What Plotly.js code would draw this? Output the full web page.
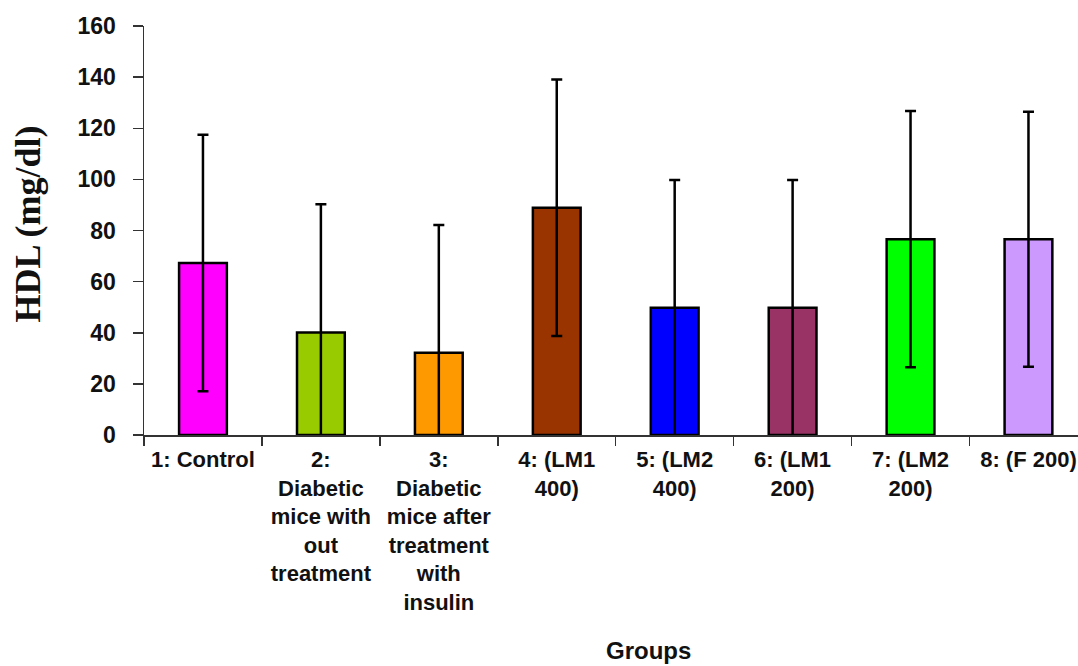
<!DOCTYPE html>
<html>
<head>
<meta charset="utf-8">
<script src="https://cdn.plot.ly/plotly-3.0.1.min.js"></script>
<style>html,body{margin:0;padding:0;background:#fff;}#chart{width:1078px;height:666px;}</style>
</head>
<body>
<div id="chart"></div>
<script>
const categories = [
  "1: Control",
  "2:<br>Diabetic<br>mice with<br>out<br>treatment",
  "3:<br>Diabetic<br>mice after<br>treatment<br>with<br>insulin",
  "4: (LM1<br>400)",
  "5: (LM2<br>400)",
  "6: (LM1<br>200)",
  "7: (LM2<br>200)",
  "8: (F 200)"
];
const hdlValues = [67.3, 40.1, 32.2, 88.9, 49.8, 49.8, 76.6, 76.6];
const hdlErrors = [50.2, 50.2, 50.0, 50.2, 50.0, 50.0, 50.1, 49.9];
const barColors = ["#FF00FF", "#99CC00", "#FF9900", "#993300", "#0000FF", "#993366", "#00FF00", "#CC99FF"];
const yTickVals = [0, 20, 40, 60, 80, 100, 120, 140, 160];

const trace = {
  type: "bar",
  x: categories,
  y: hdlValues,
  width: 0.405,
  marker: { color: barColors, line: { color: "#000", width: 2.5 } },
  error_y: { type: "data", array: hdlErrors, visible: true, color: "#000", thickness: 2.5, width: 5.5 },
  hoverinfo: "none"
};

const layout = {
  width: 1078,
  height: 666,
  margin: { l: 144, r: 0, t: 26, b: 231 },
  paper_bgcolor: "#fff",
  plot_bgcolor: "#fff",
  showlegend: false,
  xaxis: {
    type: "category",
    range: [-0.5, 7.42],
    tickson: "boundaries",
    ticks: "outside",
    ticklen: 9,
    tickwidth: 1.5,
    tickcolor: "#333",
    showline: true,
    linecolor: "#333",
    linewidth: 1.5,
    showgrid: false,
    zeroline: false,
    tickangle: 0,
    ticklabelstandoff: 4,
    tickfont: { family: "Liberation Sans, Arial, sans-serif", size: 22, weight: "bold", color: "#111" },
    fixedrange: true
  },
  yaxis: {
    range: [0, 160],
    tickvals: yTickVals,
    ticks: "outside",
    ticklen: 10,
    tickwidth: 1.5,
    tickcolor: "#333",
    showline: true,
    linecolor: "#333",
    linewidth: 1.5,
    showgrid: false,
    zeroline: false,
    ticklabelstandoff: 12,
    tickfont: { family: "Liberation Sans, Arial, sans-serif", size: 23, weight: "bold", color: "#111" },
    fixedrange: true
  },
  annotations: [
    {
      text: "<b>Groups</b>",
      xref: "paper", yref: "paper",
      x: 0.54, y: -0.528,
      xanchor: "center", yanchor: "middle",
      showarrow: false,
      font: { family: "Liberation Sans, Arial, sans-serif", size: 24, color: "#111" }
    },
    {
      text: "<b>HDL (mg/dl)</b>",
      xref: "paper", yref: "paper",
      x: -0.124, y: 0.515,
      xanchor: "center", yanchor: "middle",
      textangle: -90,
      showarrow: false,
      font: { family: "Liberation Serif, Times New Roman, serif", size: 36, color: "#111" }
    }
  ]
};

Plotly.newPlot("chart", [trace], layout, { displayModeBar: false, staticPlot: true });
</script>
</body>
</html>
